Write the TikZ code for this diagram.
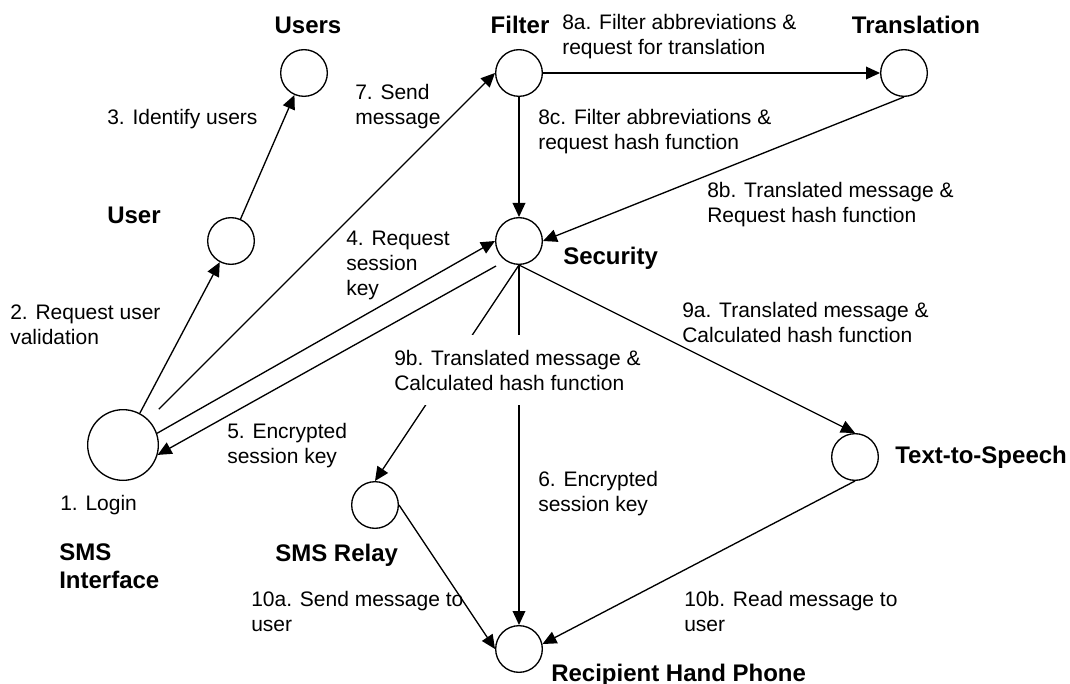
\documentclass[tikz,border=0pt]{standalone}
\usepackage{fontspec}
\setmainfont{Liberation Sans}
\usetikzlibrary{positioning, arrows.meta}

\begin{document}
\begin{tikzpicture}[
        x = 0.75pt, y = -0.75pt,
        proc/.style = {
            draw,
            circle,
            line width = 1pt,
            minimum size = 35pt,
            inner sep = 0pt
        },
        big/.style = {
            minimum size = 53pt
        },
        title/.style = {
            font = \fontsize{18}{21}\selectfont\bfseries,
            inner sep = 0pt,
            align = left
        },
        msg/.style = {
            font = \fontsize{15.75}{18.75}\selectfont,
            inner sep = 0pt,
            align = left,
            anchor = base west
        },
        flow/.style = {
            line width = 1pt,
            -{Triangle[length = 10.5pt, width = 9.5pt]}
        }
    ]
        \useasboundingbox (0,0) rectangle (1070,684);

        \node[proc] (users) at (304,73) {};
        \node[proc] (filter) at (519,73) {};
        \node[proc] (transl) at (904,73) {};
        \node[proc] (user) at (231,241) {};
        \node[proc] (security) at (519,241) {};
        \node[proc, big] (sms) at (123,445) {};
        \node[proc] (relay) at (375,505) {};
        \node[proc] (tts) at (855,457) {};
        \node[proc] (phone) at (519,649) {};
        \coordinate (gap5) at (496,266);

        \draw[flow] (sms) -- (user);
        \draw[flow] (user) -- (users);
        \draw[flow, shorten <= 11pt] (sms) -- (filter.west);
        \draw[flow] (sms.19) -- (security.west);
        \draw[flow] (gap5) -- (sms.-16);
        \draw[flow] (filter) -- (transl);
        \draw[flow] (filter) -- (security);
        \draw[flow] (transl.south) -- (security.east);
        \draw[flow] (security.south) -- (tts.north);
        \draw[flow] (security.south) -- (relay.north);
        \draw[flow] (security) -- (phone);
        \draw[flow] (relay.east) -- (phone.west);
        \draw[flow] (tts.south) -- (phone.12);

        \node[title, anchor = base] (tUsers) at (308,33.5) {Users};
        \node[title, anchor = base] (tFilter) at (520,33.5) {Filter};
        \node[title, anchor = base] (tTransl) at (916,33.5) {Translation};
        \node[title, anchor = base west] (tUser) at (107,223.5) {User};
        \node[title, anchor = base west] (tSecurity) at (563,264) {Security};
        \node[title, anchor = base west] (tSms) at (59,588.5) {SMS\\Interface};
        \node[title, anchor = base west] (tRelay) at (275,561) {SMS Relay};
        \node[title, anchor = base west] (tTts) at (895,463) {Text-to-Speech};
        \node[title, anchor = base west] (tPhone) at (551,681) {Recipient Hand Phone};

        \node[msg] (m1) at (60,510) {1. Login};
        \node[msg] (m2) at (10,344) {2. Request user\\validation};
        \node[msg] (m3) at (107,125) {3. Identify users};
        \node[msg] (m4) at (346,296) {4. Request\\session\\key};
        \node[msg] (m5) at (227,463) {5. Encrypted\\session key};
        \node[msg] (m6) at (538,511) {6. Encrypted\\session key};
        \node[msg] (m7) at (355,125) {7. Send\\message};
        \node[msg] (m8a) at (562,55) {8a. Filter abbreviations \&\\request for translation};
        \node[msg] (m8b) at (707,223) {8b. Translated message \&\\Request hash function};
        \node[msg] (m8c) at (538,150) {8c. Filter abbreviations \&\\request hash function};
        \node[msg] (m9a) at (682,342) {9a. Translated message \&\\Calculated hash function};
        \node[msg, fill = white, inner xsep = 1.5pt, inner ysep = 11pt] (m9b) at (392,390) {9b. Translated message \&\\Calculated hash function};
        \node[msg] (m10a) at (251,631) {10a. Send message to\\user};
        \node[msg] (m10b) at (684,631) {10b. Read message to\\user};
    \end{tikzpicture}
\end{document}
